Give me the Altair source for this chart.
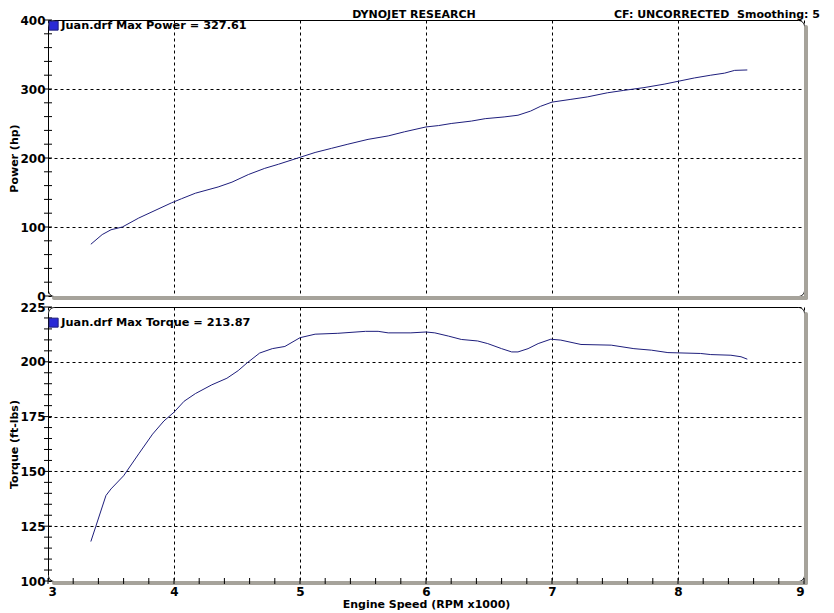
import altair as alt
import pandas as pd

# ---- data read from the dyno sheet ----
rpm_power = [3.34, 3.43, 3.50, 3.59, 3.72, 3.98, 4.06, 4.17, 4.35, 4.46, 4.59, 4.72, 4.83,
             5.00, 5.12, 5.25, 5.38, 5.54, 5.70, 5.83, 6.00, 6.10, 6.20, 6.36, 6.47, 6.62,
             6.73, 6.83, 6.91, 7.00, 7.15, 7.28, 7.44, 7.57, 7.73, 7.89, 8.01, 8.13, 8.26,
             8.37, 8.45, 8.55]
power_hp = [75, 89, 96, 100, 113, 135, 141, 149, 158, 165, 176, 185, 191,
            201, 208, 214, 220, 227, 232, 238, 245, 247, 250, 253.5, 257, 259.5,
            262, 268, 275, 281, 285, 288.5, 294.5, 298, 302, 307, 311.5, 316, 320,
            323, 327, 327.6]

rpm_torque = [3.34, 3.38, 3.46, 3.50, 3.60, 3.72, 3.83, 3.92, 4.00, 4.08, 4.17, 4.30, 4.42,
              4.51, 4.58, 4.68, 4.78, 4.88, 5.00, 5.12, 5.30, 5.52, 5.62, 5.70, 5.88, 6.00,
              6.07, 6.18, 6.28, 6.41, 6.49, 6.60, 6.68, 6.73, 6.81, 6.89, 6.99, 7.07, 7.23,
              7.47, 7.65, 7.79, 7.92, 8.18, 8.26, 8.42, 8.50, 8.55]
torque_ftlb = [118, 125, 139, 142, 148, 158, 167, 173, 177, 182, 185.5, 189.5, 192.5,
               196, 199.5, 204, 206, 207, 211, 212.6, 213, 213.9, 213.9, 213.2, 213.2, 213.6,
               213.2, 211.7, 210.2, 209.5, 208.3, 206, 204.5, 204.5, 206, 208.3, 210.3, 209.9, 207.9,
               207.6, 206, 205.3, 204.2, 203.8, 203.3, 203, 202.3, 201.2]

power_label = "Juan.drf Max Power = 327.61"
torque_label = "Juan.drf Max Torque = 213.87"
header_title = "DYNOJET RESEARCH"
header_right = "CF: UNCORRECTED\u00a0 Smoothing: 5"

x_major = [3, 4, 5, 6, 7, 8, 9]
x_minor = [3.0, 3.2, 3.4, 3.6, 3.8, 4.0, 4.2, 4.4, 4.6, 4.8, 5.0, 5.2, 5.4, 5.6, 5.8,
           6.0, 6.2, 6.4, 6.6, 6.8, 7.0, 7.2, 7.4, 7.6, 7.8, 8.0, 8.2, 8.4, 8.6, 8.8, 9.0]
power_major = [0, 100, 200, 300, 400]
power_minor = list(range(0, 401, 20))
torque_major = [100, 125, 150, 175, 200, 225]
torque_minor = list(range(100, 226, 5))

FONT = "DejaVu Sans"
LINE = "#1e1e7c"
SWATCH = "#2a2ad6"
SHADOW = "#a6a39b"
W = 756


def panel(rpm, vals, label, ydom, ymajor, yminor, ytitle, height, bottom, legend_y, extra=None):
    df = pd.DataFrame({"rpm": rpm, "val": vals, "series": label})
    one = pd.DataFrame({"k": [0]})
    xs = alt.Scale(domain=[3, 9], nice=False, zero=False)
    ys = alt.Scale(domain=ydom, nice=False, zero=False)
    if bottom:
        xaxis = alt.Axis(values=x_major, title="Engine Speed (RPM x1000)", format="d",
                         ticks=False, tickSize=0, labelPadding=5, titlePadding=1,
                         labelOverlap=False)
    else:
        xaxis = alt.Axis(values=x_major, title=None, labels=False, ticks=False, tickSize=0)
    yaxis = alt.Axis(values=ymajor, title=ytitle, format="d", ticks=False, tickSize=0,
                     labelPadding=3, titlePadding=0, labelOverlap=False)

    shadow_bottom = alt.Chart(one).mark_rect(fill=SHADOW, cornerRadius=2, xOffset=4, x2Offset=4,
                                             y2Offset=4).encode(
        x=alt.datum(3), x2=alt.datum(9), y=alt.datum(ydom[0]), y2=alt.datum(ydom[0]))
    shadow_right = alt.Chart(one).mark_rect(fill=SHADOW, cornerRadius=2, x2Offset=4,
                                            yOffset=5, y2Offset=4).encode(
        x=alt.datum(9), x2=alt.datum(9), y=alt.datum(ydom[1]), y2=alt.datum(ydom[0]))
    yticks = alt.Chart(pd.DataFrame({"t": yminor})).mark_rule(
        color="black", strokeWidth=1, xOffset=-4, x2Offset=4).encode(
        y=alt.Y("t:Q"), x=alt.datum(3), x2=alt.datum(3))
    line = alt.Chart(df).mark_line(strokeWidth=1).encode(
        x=alt.X("rpm:Q", scale=xs, axis=xaxis),
        y=alt.Y("val:Q", scale=ys, axis=yaxis),
        color=alt.Color("series:N", scale=alt.Scale(range=[LINE]),
                        legend=alt.Legend(title=None, orient="none", legendX=0, legendY=legend_y,
                                          symbolType="square", symbolSize=81,
                                          symbolFillColor=SWATCH, symbolStrokeColor="#000050",
                                          symbolStrokeWidth=1, padding=0, labelOffset=2,
                                          labelFont=FONT, labelFontSize=11.3,
                                          labelFontWeight="bold",
                                          labelColor="black", labelLimit=400)))
    layers = [line, shadow_bottom, shadow_right, yticks]
    if bottom:
        xticks = alt.Chart(pd.DataFrame({"t": x_minor})).mark_rule(
            color="black", strokeWidth=1, yOffset=-3, y2Offset=3).encode(
            x=alt.X("t:Q"), y=alt.datum(ydom[0]), y2=alt.datum(ydom[0]))
        layers.append(xticks)
    if extra is not None:
        layers += extra(one)
    return alt.layer(*layers).properties(width=W, height=height)


def header(one):
    t1 = alt.Chart(one).mark_text(font=FONT, fontSize=11, fontWeight="bold", color="black",
                                  align="center", baseline="middle").encode(
        x=alt.value(366), y=alt.value(-5), text=alt.value(header_title))
    t2 = alt.Chart(one).mark_text(font=FONT, fontSize=11, fontWeight="bold", color="black",
                                  align="right", baseline="middle").encode(
        x=alt.value(772), y=alt.value(-5), text=alt.value(header_right))
    return [t1, t2]


top = panel(rpm_power, power_hp, power_label, [0, 400], power_major, power_minor,
            "Power (hp)", 276, False, 0, header)
bot = panel(rpm_torque, torque_ftlb, torque_label, [100, 225], torque_major, torque_minor,
            "Torque (ft-lbs)", 274, True, 10)

chart = alt.vconcat(top, bot, spacing=11, bounds="flush").resolve_scale(
    color="independent").properties(
    padding={"left": 0, "top": 0, "right": 0, "bottom": 0}, background="white"
).configure_view(stroke="black", strokeWidth=1, cornerRadius=6, fill="white").configure_axis(
    domain=False, grid=True, gridColor="black", gridDash=[3, 3], gridWidth=1,
    labelFont=FONT, labelFontSize=12, labelFontWeight="bold",
    labelColor="black", titleFont=FONT, titleFontSize=11, titleFontWeight="bold",
    titleColor="black"
)

chart.save("out.html", embed_options={"renderer": "svg", "actions": False})
